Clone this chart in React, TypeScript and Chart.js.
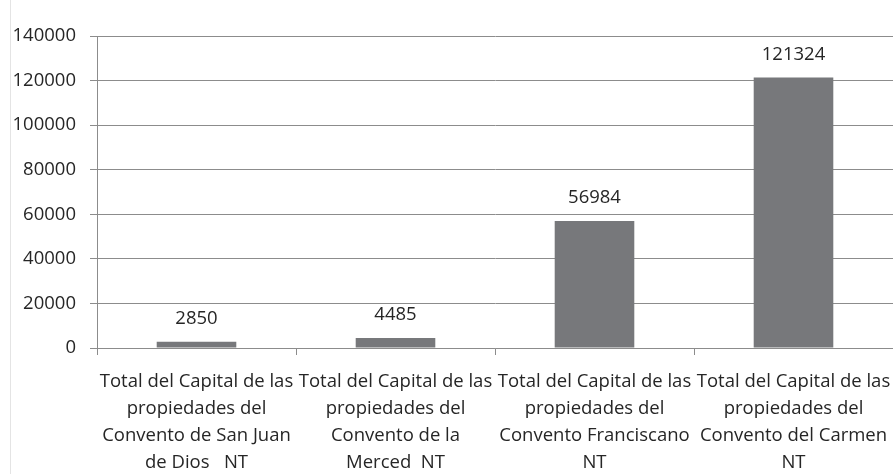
import React, { useEffect, useRef } from "react";
import { Chart, registerables } from "chart.js";

Chart.register(...registerables);

const categories: string[][] = [
  ["Total del Capital de las", "propiedades del", "Convento de San Juan", "de Dios   NT"],
  ["Total del Capital de las", "propiedades del", "Convento de la", "Merced  NT"],
  ["Total del Capital de las", "propiedades del", "Convento Franciscano", "NT"],
  ["Total del Capital de las", "propiedades del", "Convento del Carmen", "NT"],
];
const values: number[] = [2850, 4485, 56984, 121324];
const yMin = 0;
const yMax = 140000;
const yStep = 20000;

const FONT = "'Open Sans', sans-serif";
const TEXT = "#262626";
const SIZE = 18.5;

const labelPlugin = {
  id: "barLabels",
  afterDatasetsDraw(chart: any) {
    const ctx = chart.ctx;
    const meta = chart.getDatasetMeta(0);
    ctx.save();
    ctx.font = `${SIZE}px ${FONT}`;
    ctx.fillStyle = TEXT;
    ctx.textAlign = "center";
    ctx.textBaseline = "middle";
    meta.data.forEach((el: any, i: number) => {
      ctx.fillText(String(values[i]), el.x, el.y - 23);
    });
    ctx.restore();
  },
};

export default function App() {
  const ref = useRef<HTMLCanvasElement>(null);
  useEffect(() => {
    document.body.style.margin = "0";
    const chart = new Chart(ref.current!, {
      type: "bar",
      data: {
        labels: categories,
        datasets: [
          {
            data: values,
            backgroundColor: "#77787b",
            categoryPercentage: 0.4,
            barPercentage: 1,
          },
        ],
      },
      options: {
        animation: false,
        responsive: false,
        maintainAspectRatio: false,
        layout: { padding: { top: 36, right: 0, left: 0, bottom: 0 } },
        plugins: { legend: { display: false }, tooltip: { enabled: false } },
        scales: {
          x: {
            grid: {
              offset: true,
              drawOnChartArea: false,
              tickLength: 7,
              color: "#8c8c8c",
            },
            border: { display: true, color: "#8c8c8c" },
            ticks: {
              autoSkip: false,
              maxRotation: 0,
              minRotation: 0,
              padding: 13,
              color: TEXT,
              font: { family: FONT, size: SIZE, lineHeight: "27px" } as any,
            },
            afterFit(scale: any) {
              scale.height = 126;
              scale.paddingLeft = 0;
              scale.paddingRight = 0;
            },
          },
          y: {
            min: yMin,
            max: yMax,
            ticks: {
              stepSize: yStep,
              padding: 14,
              color: TEXT,
              font: { family: FONT, size: SIZE },
              callback: (v: any) => String(v),
            },
            grid: { color: "#8c8c8c", tickLength: 7 },
            border: { display: true, color: "#8c8c8c" },
            afterFit(scale: any) {
              scale.width = 97;
            },
          },
        },
      },
      plugins: [labelPlugin],
    });
    return () => chart.destroy();
  }, []);
  return (
    <div style={{ position: "relative", width: 893, height: 474, background: "#fff" }}>
      <div
        style={{
          position: "absolute",
          left: 10,
          top: 0,
          width: 1,
          height: 474,
          background: "#e4e4e4",
        }}
      />
      <canvas ref={ref} width={893} height={474} style={{ display: "block" }} />
    </div>
  );
}
